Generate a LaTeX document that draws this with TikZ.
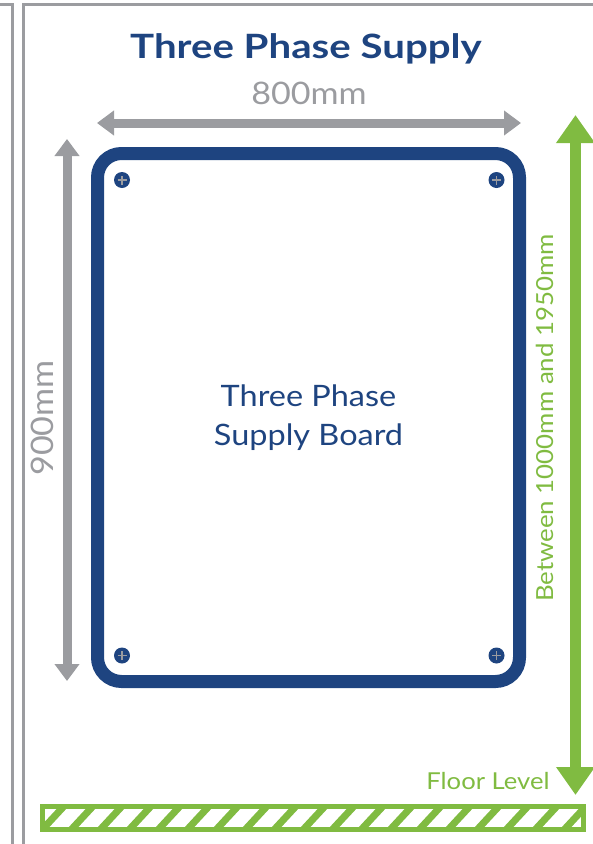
\documentclass[tikz,border=0pt]{standalone}
\usepackage{fontspec}
\setmainfont{Lato}[FakeStretch=1.1]
\newfontfamily\headfont{Lato}[FakeStretch=1.2]
\usetikzlibrary{arrows.meta}
\definecolor{navy}{RGB}{30,68,128}
\definecolor{greyline}{RGB}{155,156,160}
\definecolor{leaf}{RGB}{128,187,65}

\begin{document}
\begin{tikzpicture}[x=1pt, y=-1pt,
    dim/.style={greyline, line width=9pt,
        {Triangle[length=17pt,width=24pt]}-{Triangle[length=17pt,width=24pt]}},
    height/.style={leaf, line width=11pt,
        {Triangle[length=28pt,width=37pt]}-{Triangle[length=28pt,width=37pt]}},
    screw/.style={circle, fill=navy, inner sep=0pt, minimum size=16pt,
        path picture={
            \draw[greyline, line width=1.8pt]
                ([xshift=-4.5pt]path picture bounding box.center) -- ([xshift=4.5pt]path picture bounding box.center)
                ([yshift=-4.5pt]path picture bounding box.center) -- ([yshift=4.5pt]path picture bounding box.center);
        }},
    wall/.style={greyline, line width=3pt}]
\useasboundingbox (0,0) rectangle (593,844);

\draw[wall] (0,4.5) -- (12.5,4.5) -- (12.5,844);
\draw[wall] (593,4.5) -- (23.5,4.5) -- (23.5,844);

\node (title) at (306,49) [navy, font=\headfont\fontsize{33.5}{33.5}\selectfont\bfseries] {Three Phase Supply};
\node (wtext) at (309,93) [greyline, font=\fontsize{31}{31}\selectfont] {800mm};
\node (htext) at (42,418) [greyline, rotate=90, font=\fontsize{31}{31}\selectfont] {900mm};

\node (board) at (308.5,417.5) [draw=navy, line width=13pt, rounded corners=24pt,
    minimum width=422pt, minimum height=528pt, align=center, text=navy,
    font=\fontsize{29.5}{39}\selectfont] {Three Phase\\Supply Board};

\node[screw] (s1) at (122,180) {};
\node[screw] (s2) at (496.5,180) {};
\node[screw] (s3) at (122,655.5) {};
\node[screw] (s4) at (496.5,655.5) {};

\coordinate (wl) at (97,123);
\coordinate (wr) at (521,123);
\coordinate (ht) at (67,139);
\coordinate (hb) at (67,681);
\draw[dim] (wl) -- (wr);
\draw[dim] (ht) -- (hb);

\coordinate (gt) at (575.5,115);
\coordinate (gb) at (575.5,795);
\draw[height] (gt) -- (gb);
\node (gtext) at (545,418) [leaf, rotate=90, font=\fontsize{23.5}{23.5}\selectfont] {Between 1000mm and 1950mm};
\node (floor) at (488,781) [leaf, font=\fontsize{23.3}{23.3}\selectfont] {Floor Level};

\begin{scope}
\clip (42.5,806.5) rectangle (583.5,829);
\foreach \x in {40,69,...,620}
    \draw[leaf, line width=7pt] (\x,832) -- (\x+26,804);
\end{scope}
\draw[leaf, line width=5pt] (42.5,806.5) rectangle (583.5,829);
\end{tikzpicture}
\end{document}
